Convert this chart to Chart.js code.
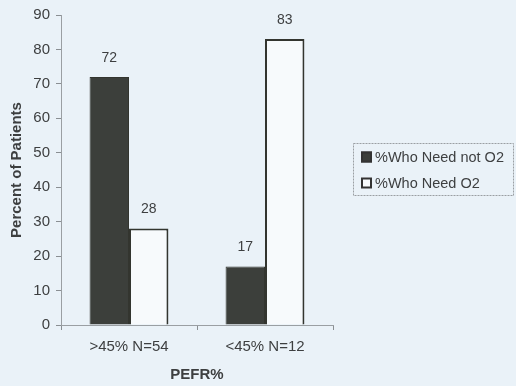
<!DOCTYPE html>
<html>
<head>
<meta charset="utf-8">
<script src="https://cdn.jsdelivr.net/npm/chart.js@4"></script>
<style>
  html, body { margin: 0; padding: 0; background: #eaf2f8; }
  #wrap { width: 516px; height: 386px; position: relative; }
</style>
</head>
<body>
<div id="wrap"><canvas id="c" width="516" height="386"></canvas></div>
<script>
// PEFR groups and the share of patients in each group
const categories = ['>45% N=54', '<45% N=12'];
const needNotO2 = [72, 17];
const needO2 = [28, 83];
const seriesNames = ['%Who Need not O2', '%Who Need O2'];
const yTicks = [0, 10, 20, 30, 40, 50, 60, 70, 80, 90];

const FONT = "'Liberation Sans', Arial, sans-serif";
const TEXT = '#3d3f40';

// Value printed above each bar
const valueLabels = {
  id: 'valueLabels',
  afterDatasetsDraw(chart) {
    const ctx = chart.ctx;
    ctx.save();
    ctx.font = '14px ' + FONT;
    ctx.fillStyle = TEXT;
    ctx.textAlign = 'center';
    ctx.textBaseline = 'middle';
    chart.data.datasets.forEach((ds, i) => {
      chart.getDatasetMeta(i).data.forEach((bar, j) => {
        ctx.fillText(String(ds.data[j]), bar.x, bar.y - 19);
      });
    });
    ctx.restore();
  }
};

// Boxed legend to the right of the plot
const boxLegend = {
  id: 'boxLegend',
  afterDraw(chart) {
    const ctx = chart.ctx;
    const a = chart.chartArea;
    const x = a.right + 20, y = 143, w = 160, h = 52;
    ctx.save();
    ctx.strokeStyle = '#9a9fa3';
    ctx.lineWidth = 1;
    ctx.setLineDash([2, 1]);
    ctx.strokeRect(x + 0.5, y + 0.5, w, h);
    ctx.setLineDash([]);
    ctx.font = '14.5px ' + FONT;
    ctx.textBaseline = 'middle';
    chart.data.datasets.forEach((ds, i) => {
      const cy = y + 14 + i * 26;
      ctx.fillStyle = ds.backgroundColor;
      ctx.fillRect(x + 8, cy - 5.5, 11, 11);
      ctx.strokeStyle = '#333';
      ctx.lineWidth = 2;
      ctx.strokeRect(x + 9, cy - 4.5, 9, 9);
      ctx.fillStyle = TEXT;
      ctx.fillText(ds.label, x + 22, cy + 1);
    });
    ctx.restore();
  }
};

new Chart(document.getElementById('c'), {
  type: 'bar',
  data: {
    labels: categories,
    datasets: [
      { label: seriesNames[0], data: needNotO2, backgroundColor: '#3c3f3b', borderColor: '#33352f', borderWidth: 1 },
      { label: seriesNames[1], data: needO2, backgroundColor: '#f7fafc', borderColor: '#33352f', borderWidth: 2 }
    ]
  },
  options: {
    responsive: false,
    animation: false,
    devicePixelRatio: 1,
    layout: { padding: { top: 15, right: 183, left: 0, bottom: 0 } },
    datasets: { bar: { categoryPercentage: 0.58, barPercentage: 1 } },
    plugins: { legend: { display: false }, tooltip: { enabled: false } },
    scales: {
      x: {
        afterFit(s) { s.height = 61; },
        grid: { display: true, drawOnChartArea: false, tickLength: 5, color: '#8a8f93' },
        border: { display: true, color: '#9a9fa3', dash: [2, 1] },
        ticks: { color: TEXT, font: { family: FONT, size: 15 }, padding: 8 },
        title: { display: true, text: 'PEFR%', color: TEXT, font: { family: FONT, size: 15, weight: 'bold' }, padding: { top: 4, bottom: 2 } }
      },
      y: {
        min: 0, max: 90,
        afterFit(s) { s.width = 61; },
        afterBuildTicks(s) { s.ticks = yTicks.map(v => ({ value: v })); },
        grid: { display: true, drawOnChartArea: false, tickLength: 5, color: '#8a8f93' },
        border: { display: true, color: '#9a9fa3', dash: [2, 1] },
        ticks: { color: TEXT, font: { family: FONT, size: 15 }, padding: 6 },
        title: { display: true, text: 'Percent of Patients', color: TEXT, font: { family: FONT, size: 15, weight: 'bold' }, padding: { top: 8, bottom: 0 } }
      }
    }
  },
  plugins: [valueLabels, boxLegend]
});
</script>
</body>
</html>
